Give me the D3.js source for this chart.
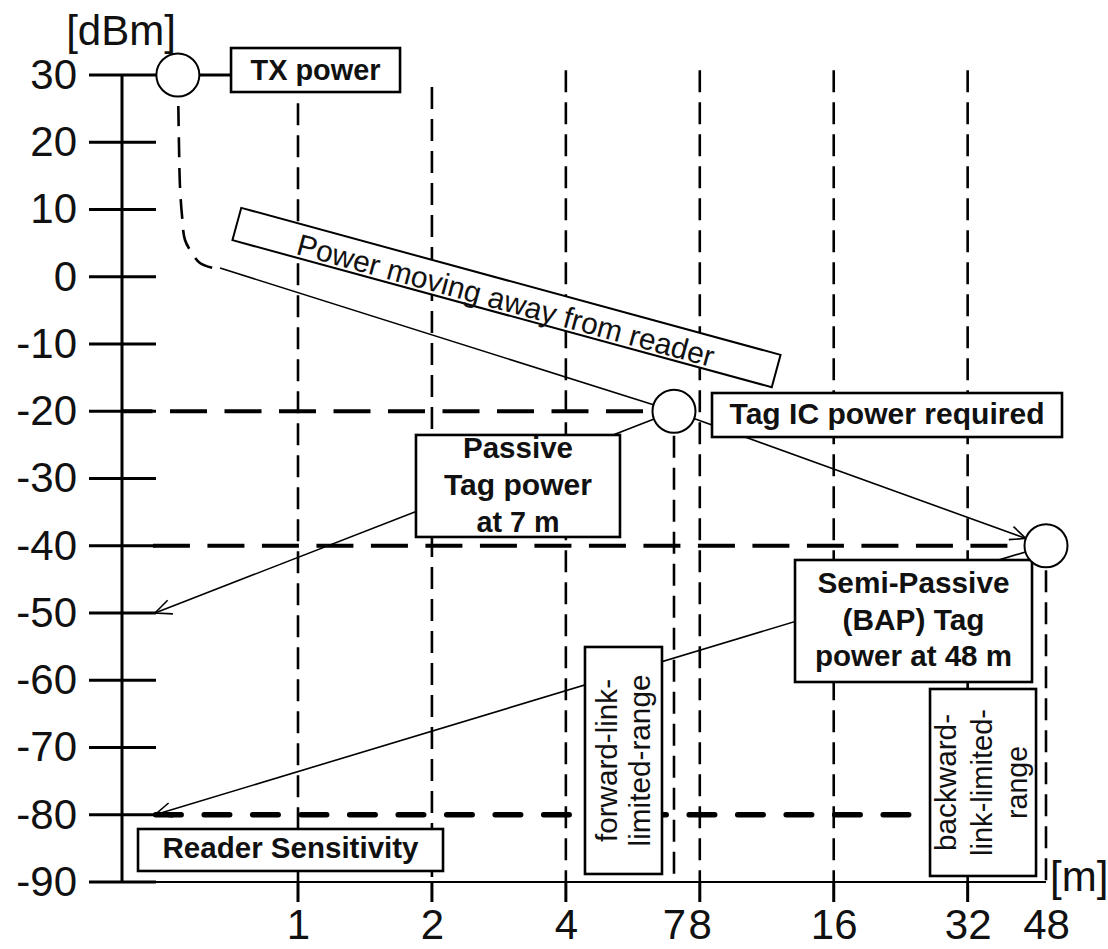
<!DOCTYPE html>
<html><head><meta charset="utf-8">
<script src="https://cdn.jsdelivr.net/npm/d3@7"></script>
<style>
html,body{margin:0;padding:0;background:#fff;}
svg{display:block;font-family:Arial,"Liberation Sans",Helvetica,sans-serif;}
</style></head><body>
<svg id="chart" width="1108" height="949"></svg>
<script>
// ---------------- DATA ----------------
const distanceTicks = [1, 2, 4, 7, 8, 16, 32, 48];            // x tick labels [m]
const distanceTickMarks = [1, 2, 4, 8, 16, 32];                // tick marks under the axis
const powerTicks = [30, 20, 10, 0, -10, -20, -30, -40, -50, -60, -70, -80, -90]; // [dBm]
const gridDistances = [1, 2, 4, 8, 16, 32];
const gridTopPower = [25.8, 28.2, 30.7, 30.7, 30.7, 30.7];
const txPoint = [0.537, 30];
const tagIcPoint = [7, -20];
const bapPoint = [48, -40];
const decayCurve = [[0.537, 30], [0.540, 20], [0.543, 13.35], [0.549, 8.9], [0.557, 5.5], [0.578, 3.5], [0.602, 2.05], [0.644, 1.3]];
const powerLine = [[0.668, 1.3], [7, -20], [48, -40]];
const passiveArrow = [[7, -20], [0.477, -50]];
const bapArrow = [[48, -40], [0.477, -80]];
const referenceLevels = [-20, -40, -80];
const referenceFrom = [0.40, 0.472, 0.472];
const referenceTo = [7, 48, 30];
const dropDistances = [7, 48];
const dropFromPower = [-20, -40];

// ---------------- LAYOUT / STYLE ----------------
const ink = "#000";
const textInk = "#111";
const svg = d3.select("#chart");
const x = d3.scaleLog().base(2).domain([1, 48]).range([298, 1046]);
const y = d3.scaleLinear().domain([-90, 30]).range([882, 75]);
const axisX = 122, tickL = 89, tickR = 156;
const circleR = 21.5;

const annotations = [
  {lines:["TX power"], d:1.095, p:30.74, w:169, h:44, weight:"bold", size:29.5, lens:[130], offs:[10], sw:2.6},
  {lines:["Power moving away from reader"], d:2.942, p:-3.09, w:559, h:33.5, rotate:15.25, weight:"normal", size:30, lens:[431], offs:[3], dy:"0.35em", sw:2},
  {lines:["Tag IC power required"], d:21.08, p:-20.56, w:350, h:44, weight:"bold", size:29.5, lens:[315], offs:[9], sw:2.6},
  {lines:["Passive","Tag power","at 7 m"], d:3.122, p:-31.11, w:204, h:102, weight:"bold", size:29.5, lens:[110,148,83], offs:[-28,9,46], sw:2.6},
  {lines:["Semi-Passive","(BAP) Tag","power at 48 m"], d:24.18, p:-51.19, w:237, h:122, weight:"bold", size:29.5, lens:[192,142,197], offs:[-28,9,45], sw:2.6},
  {lines:["forward-link-","limited-range"], d:5.39, p:-71.93, w:77, h:227, vertical:true, weight:"normal", size:30, lens:[163,172], offs:[-17,16], dy:"0.35em", sw:2.6},
  {lines:["backward-","link-limited-","range"], d:34.65, p:-75.2, w:106, h:187, vertical:true, weight:"normal", size:30, lens:[137,147,73], offs:[-38,-2,33], dy:"0.35em", sw:2.6},
  {lines:["Reader Sensitivity"], d:0.962, p:-85.24, w:305, h:42, weight:"bold", size:29.5, lens:[256], offs:[8], sw:2.6}
];

const P = d => [x(d[0]), y(d[1])];

// ---------------- GRID (vertical dashed) ----------------
const layerGrid = svg.append("g");
layerGrid.selectAll("line.grid").data(gridDistances).join("line")
  .attr("class","grid")
  .attr("x1", d => x(d)).attr("x2", d => x(d))
  .attr("y1", (d, i) => y(gridTopPower[i])).attr("y2", y(-90))
  .attr("stroke", ink).attr("stroke-width", 2.6).attr("stroke-dasharray", "22,10");

layerGrid.selectAll("line.drop").data(dropDistances).join("line")
  .attr("class","drop")
  .attr("x1", d => x(d)).attr("x2", d => x(d))
  .attr("y1", (d, i) => y(dropFromPower[i]) + circleR + 3).attr("y2", y(-90))
  .attr("stroke", ink).attr("stroke-width", 2.6).attr("stroke-dasharray", "22,10");

// ---------------- REFERENCE LEVELS (horizontal dashed) ----------------
const refStyle = [
  {w:4, dash:"37,17.5", off:6.5, cap:"butt"},
  {w:4, dash:"37,17.5", off:0, cap:"butt"},
  {w:5.5, dash:"25.5,23", off:-2.75, cap:"round"}
];
layerGrid.selectAll("line.ref").data(referenceLevels).join("line")
  .attr("class","ref")
  .attr("x1", (d, i) => i === 0 ? axisX : x(referenceFrom[i]))
  .attr("x2", (d, i) => x(referenceTo[i]))
  .attr("y1", d => y(d)).attr("y2", d => y(d))
  .attr("stroke", ink)
  .attr("stroke-width", (d, i) => refStyle[i].w)
  .attr("stroke-dasharray", (d, i) => refStyle[i].dash)
  .attr("stroke-dashoffset", (d, i) => refStyle[i].off)
  .attr("stroke-linecap", (d, i) => refStyle[i].cap);

// ---------------- AXES ----------------
const layerAxes = svg.append("g");
layerAxes.append("line").attr("x1", axisX).attr("x2", axisX)
  .attr("y1", y(30)).attr("y2", y(-90)).attr("stroke", ink).attr("stroke-width", 3);
layerAxes.append("line").attr("x1", axisX).attr("x2", x(48))
  .attr("y1", y(-90)).attr("y2", y(-90)).attr("stroke", ink).attr("stroke-width", 2);
layerAxes.selectAll("line.ytick").data(powerTicks.filter(v => v !== 30)).join("line")
  .attr("class","ytick")
  .attr("x1", tickL).attr("x2", tickR).attr("y1", d => y(d)).attr("y2", d => y(d))
  .attr("stroke", ink).attr("stroke-width", 3);
// 30 dBm tick continues to the TX circle and the TX label
const txBox = annotations[0];
layerAxes.append("line").attr("x1", tickL).attr("x2", x(txBox.d) - txBox.w / 2)
  .attr("y1", y(30)).attr("y2", y(30)).attr("stroke", ink).attr("stroke-width", 3);
layerAxes.selectAll("line.xtick").data(distanceTickMarks).join("line")
  .attr("class","xtick")
  .attr("x1", d => x(d)).attr("x2", d => x(d))
  .attr("y1", y(-90)).attr("y2", y(-90) + 20)
  .attr("stroke", ink).attr("stroke-width", 3);

// ---------------- POWER CURVES ----------------
const layerLines = svg.append("g");
const lineGen = d3.line().x(d => x(d[0])).y(d => y(d[1]));
layerLines.append("path")
  .attr("d", lineGen.curve(d3.curveCatmullRom.alpha(0.5))(decayCurve))
  .attr("fill", "none").attr("stroke", ink).attr("stroke-width", 2.6)
  .attr("stroke-dasharray", "20,11");

function arrowHead(tip, from, len, half) {
  const ang = Math.atan2(from[1] - tip[1], from[0] - tip[0]);
  const a = half * Math.PI / 180;
  const p1 = [tip[0] + len * Math.cos(ang + a), tip[1] + len * Math.sin(ang + a)];
  const p2 = [tip[0] + len * Math.cos(ang - a), tip[1] + len * Math.sin(ang - a)];
  layerLines.append("path").attr("d", `M${p1}L${tip}L${p2}`)
    .attr("fill", "none").attr("stroke", ink).attr("stroke-width", 1.6);
}

// power moving away: ends at the BAP circle edge with an arrow head
{
  const pts = powerLine.map(P);
  const a = pts[1], b = pts[2];
  const L = Math.hypot(b[0] - a[0], b[1] - a[1]);
  const end = [b[0] - (b[0] - a[0]) / L * circleR, b[1] - (b[1] - a[1]) / L * circleR];
  const drawn = [pts[0], pts[1], end];
  layerLines.append("path").attr("d", d3.line()(drawn))
    .attr("fill", "none").attr("stroke", ink).attr("stroke-width", 1.6);
  arrowHead(end, a, 17, 24);
}
[passiveArrow, bapArrow].forEach(seg => {
  const pts = seg.map(P);
  layerLines.append("path").attr("d", d3.line()(pts))
    .attr("fill", "none").attr("stroke", ink).attr("stroke-width", 1.6);
  arrowHead(pts[1], pts[0], 18, 24);
});

// ---------------- ANNOTATION BOXES ----------------
const layerBoxes = svg.append("g");
annotations.forEach(a => {
  const g = layerBoxes.append("g")
    .attr("transform", `translate(${x(a.d)},${y(a.p)}) rotate(${a.rotate || 0})`);
  g.append("rect").attr("x", -a.w / 2).attr("y", -a.h / 2).attr("width", a.w).attr("height", a.h)
    .attr("fill", "#fff").attr("stroke", ink).attr("stroke-width", a.sw);
  const tg = a.vertical ? g.append("g").attr("transform", "rotate(-90)") : g;
  a.lines.forEach((t, i) => {
    tg.append("text")
      .attr("x", 0).attr("y", a.offs[i]).attr("dy", a.dy || null)
      .attr("text-anchor", "middle")
      .attr("font-size", a.size).attr("font-weight", a.weight)
      .attr("fill", textInk)
      .attr("textLength", a.lens[i]).attr("lengthAdjust", "spacingAndGlyphs")
      .text(t);
  });
});

// ---------------- CIRCLES ----------------
svg.append("g").selectAll("circle").data([txPoint, tagIcPoint, bapPoint]).join("circle")
  .attr("cx", d => x(d[0])).attr("cy", d => y(d[1])).attr("r", circleR)
  .attr("fill", "#fff").attr("stroke", ink).attr("stroke-width", 2);

// ---------------- AXIS LABELS ----------------
const yAxis = d3.axisLeft(y).tickValues(powerTicks).tickFormat(d => String(d)).tickSize(0).tickPadding(45);
svg.append("g").attr("transform", `translate(${axisX},0)`).call(yAxis)
  .call(g => g.select(".domain").remove())
  .call(g => g.selectAll("line").remove())
  .attr("font-family", null).attr("font-size", null)
  .selectAll("text").attr("font-size", 42).attr("fill", textInk);

const xAxis = d3.axisBottom(x).tickValues(distanceTicks).tickFormat(d => String(d)).tickSize(0).tickPadding(0);
svg.append("g").attr("transform", `translate(0,${y(-90)})`).call(xAxis)
  .call(g => g.select(".domain").remove())
  .call(g => g.selectAll("line").remove())
  .attr("font-family", null).attr("font-size", null)
  .selectAll("text").attr("font-size", 42).attr("fill", textInk)
  .attr("y", 57).attr("dy", null);

svg.append("text").attr("x", axisX - 1).attr("y", 45).attr("text-anchor", "middle")
  .attr("font-size", 42).attr("fill", textInk).text("[dBm]");
svg.append("text").attr("x", 1050).attr("y", 891).attr("text-anchor", "start")
  .attr("font-size", 42).attr("fill", textInk).text("[m]");
</script>
</body></html>
